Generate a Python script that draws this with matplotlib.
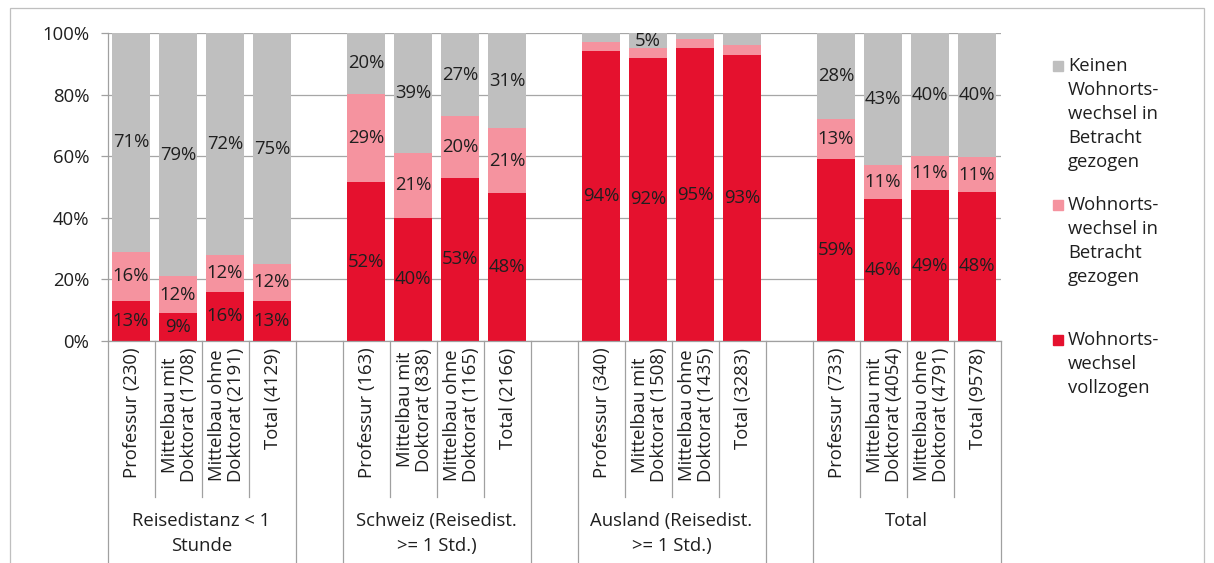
import matplotlib
matplotlib.use("Agg")
import matplotlib.pyplot as plt
from matplotlib.patches import Rectangle
import numpy as np

plt.rcParams['font.family'] = ['Open Sans', 'DejaVu Sans']

# ---- data ----
groups = ["Reisedistanz < 1\nStunde", "Schweiz (Reisedist.\n>= 1 Std.)",
          "Ausland (Reisedist.\n>= 1 Std.)", "Total"]
categories = [
    "Professur (230)", "Mittelbau mit\nDoktorat (1708)", "Mittelbau ohne\nDoktorat (2191)", "Total (4129)",
    "Professur (163)", "Mittelbau mit\nDoktorat (838)", "Mittelbau ohne\nDoktorat (1165)", "Total (2166)",
    "Professur (340)", "Mittelbau mit\nDoktorat (1508)", "Mittelbau ohne\nDoktorat (1435)", "Total (3283)",
    "Professur (733)", "Mittelbau mit\nDoktorat (4054)", "Mittelbau ohne\nDoktorat (4791)", "Total (9578)",
]
vollzogen = [13, 9, 16, 13, 52, 40, 53, 48, 94, 92, 95, 93, 59, 46, 49, 48]
betracht = [16, 12, 12, 12, 29, 21, 20, 21, 3, 3, 3, 3, 13, 11, 11, 11]
keinen = [71, 79, 72, 75, 20, 39, 27, 31, 3, 5, 2, 4, 28, 43, 40, 40]

series_names = ["Wohnorts-\nwechsel\nvollzogen",
                "Wohnorts-\nwechsel in\nBetracht\ngezogen",
                "Keinen\nWohnorts-\nwechsel in\nBetracht\ngezogen"]
colors = ["#E5112E", "#F5939F", "#BFBFBF"]
yticks = [0, 20, 40, 60, 80, 100]
ytick_labels = ["0%", "20%", "40%", "60%", "80%", "100%"]

TXT = "#1F1F1F"
FS = 13.3

W, H = 1214, 563
fig = plt.figure(figsize=(W / 100, H / 100), dpi=100)
ax = fig.add_axes([107.5 / W, (H - 341) / H, 893 / W, 308 / H])

# slot positions: 4 bars per group plus one blank slot between groups
n_per = 4
positions = []
for g in range(len(groups)):
    for i in range(n_per):
        positions.append(g * (n_per + 1) + i)
positions = np.array(positions, dtype=float)

vals = np.array([vollzogen, betracht, keinen], dtype=float)
tot = vals.sum(axis=0)
fr = vals / tot * 100

bw = 38 / 47
bottom = np.zeros(len(positions))
for s in range(3):
    ax.bar(positions, fr[s], bw, bottom=bottom, color=colors[s], zorder=2,
           linewidth=0)
    for i, p in enumerate(positions):
        v = vals[s][i]
        if v >= 5:
            ax.text(p, bottom[i] + fr[s][i] / 2, f"{int(v)}%", ha="center",
                    va="center", fontsize=FS, color=TXT, zorder=3)
    bottom += fr[s]

nslots = len(groups) * (n_per + 1) - 1
ax.set_xlim(-0.5, nslots - 0.5)
ax.set_ylim(0, 100)
ax.set_yticks(yticks)
ax.set_yticklabels(ytick_labels, fontsize=FS, color=TXT)
ax.tick_params(axis="y", direction="out", length=5, width=0.9, color="#A0A0A0", pad=8)
ax.set_xticks([])
ax.yaxis.grid(True, color="#A6A6A6", linewidth=0.9, zorder=0)
ax.set_axisbelow(True)
for sp in ["top", "right"]:
    ax.spines[sp].set_visible(False)
for sp in ["left", "bottom"]:
    ax.spines[sp].set_color("#A0A0A0")
    ax.spines[sp].set_linewidth(0.9)

trans = ax.get_xaxis_transform()
# category labels
for p, lab in zip(positions, categories):
    ax.text(p + 0.03, -0.022, lab, rotation=90, ha="center", va="top",
            multialignment="center", fontsize=FS, color=TXT, transform=trans,
            linespacing=1.12)

# separator lines
inner_bottom = -(497 - 341) / 308
outer_bottom = -(580 - 341) / 308
group_edges = set()
for g in range(len(groups)):
    start = g * (n_per + 1) - 0.5
    group_edges.add(start)
    group_edges.add(start + n_per)
for k in range(nslots + 1):
    xe = k - 0.5
    yb = outer_bottom if xe in group_edges else inner_bottom
    ax.plot([xe, xe], [0, yb], color="#A0A0A0", lw=0.9, transform=trans,
            clip_on=False, zorder=1)

# group labels
for g, gl in enumerate(groups):
    xc = g * (n_per + 1) + (n_per - 1) / 2
    ax.text(xc, -(512 - 341) / 308, gl, ha="center", va="top",
            multialignment="center", fontsize=FS, color=TXT, transform=trans,
            linespacing=1.5)

# legend (manual, top entry first)
leg_y = [66, 205, 340]
for s, yy in zip([2, 1, 0], leg_y):
    fig.patches.append(Rectangle((1053 / W, 1 - (yy + 5) / H), 10 / W, 10 / H,
                                 transform=fig.transFigure, color=colors[s]))
    fig.text(1068 / W, 1 - (yy - 9) / H, series_names[s], ha="left", va="top",
             fontsize=FS, color=TXT, linespacing=1.42)

# outer frame
fig.patches.append(Rectangle((10 / W, -0.05), (1204 - 10) / W, 1.05 - 8 / H,
                             transform=fig.transFigure, fill=False,
                             edgecolor="#BFBFBF", linewidth=0.9))

fig.savefig("out.png", dpi=100)
